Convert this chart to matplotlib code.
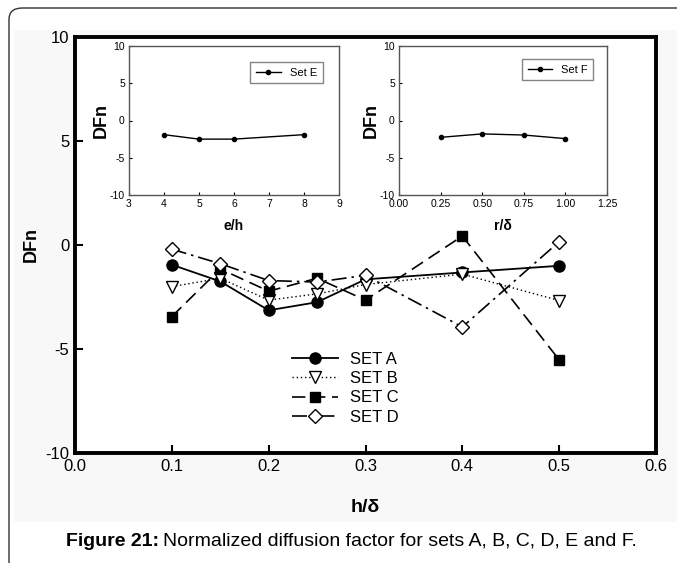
import matplotlib
matplotlib.use('Agg')
import matplotlib.pyplot as plt
from matplotlib.patches import FancyBboxPatch, Rectangle

plt.rcParams['font.family'] = ['Liberation Sans', 'DejaVu Sans']
plt.rcParams['axes.unicode_minus'] = False

# datos del grafico principal
h_delta = [0.1, 0.15, 0.2, 0.25, 0.3, 0.4, 0.5]
set_a = [-0.95, -1.75, -3.14, -2.75, -1.65, -1.32, -1.0]
set_b = [-2.0, -1.6, -2.65, -2.35, -1.9, -1.4, -2.67]
set_c = [-3.44, -1.15, -2.22, -1.6, -2.65, 0.43, -5.52]
set_d = [-0.2, -0.9, -1.71, -1.78, -1.46, -3.94, 0.16]

# datos de los recuadros
e_h = [4, 5, 6, 8]
set_e = [-1.9, -2.5, -2.5, -1.9]
r_delta = [0.25, 0.5, 0.75, 1.0]
set_f = [-2.26, -1.8, -1.95, -2.43]

W, H = 677, 563
fig = plt.figure(figsize=(W / 100, H / 100), dpi=100)
fig.patch.set_facecolor('white')

# marco redondeado y fondo gris claro
fig.patches.append(Rectangle((14 / W, 1 - 522 / H), 1, 492 / H, transform=fig.transFigure,
                             facecolor='#f8f8f8', edgecolor='none', zorder=-10))
fig.patches.append(FancyBboxPatch((9 / W, 1 - 575 / H), 1.2, 567 / H,
                                  boxstyle='round,pad=0,rounding_size=0.02',
                                  transform=fig.transFigure, facecolor='none',
                                  edgecolor='#333333', linewidth=1.0, zorder=-9))

# grafico principal
ax = fig.add_axes([75 / W, 1 - 453 / H, 581 / W, 416 / H])
ax.set_facecolor('white')
ax.plot(h_delta, set_a, color='black', lw=1.3, marker='o', ms=8, label='SET A')
ax.plot(h_delta, set_b, color='black', lw=1.0, ls=(0, (1, 2)), marker='v', ms=8,
        mfc='white', label='SET B')
ax.plot(h_delta, set_c, color='black', lw=1.2, ls=(0, (8, 4)), marker='s', ms=7,
        label='SET C')
ax.plot(h_delta, set_d, color='black', lw=1.2, ls=(0, (9, 3, 1.5, 3)), marker='D', ms=7,
        mfc='white', label='SET D')
ax.set_xlim(0, 0.6)
ax.set_ylim(-10, 10)
ax.set_xticks([0.0, 0.1, 0.2, 0.3, 0.4, 0.5, 0.6])
ax.set_xticklabels(['0.0', '0.1', '0.2', '0.3', '0.4', '0.5', '0.6'])
ax.set_yticks([-10, -5, 0, 5, 10])
ax.tick_params(direction='in', length=6, width=1.5, labelsize=12, pad=4)
for s in ax.spines.values():
    s.set_linewidth(2.8)
ax.set_xlabel('h/δ', fontsize=14, fontweight='bold', labelpad=18)
ax.set_ylabel('DFn', fontsize=13, fontweight='bold', labelpad=4)
ax.legend(loc='upper left', bbox_to_anchor=(0.215, -4.75), bbox_transform=ax.transData,
          frameon=False, fontsize=12, handlelength=2.8, handletextpad=0.7,
          labelspacing=0.25, borderpad=0)

# recuadro Set E
axe = fig.add_axes([129 / W, 1 - 195 / H, 210 / W, 149 / H])
axe.plot(e_h, set_e, color='black', lw=1.0, marker='o', ms=3, label='Set E')
axe.set_xlim(3, 9)
axe.set_ylim(-10, 10)
axe.set_xticks([3, 4, 5, 6, 7, 8, 9])
axe.set_yticks([-10, -5, 0, 5, 10])
axe.set_xlabel('e/h', fontsize=10, fontweight='bold', labelpad=7)
axe.set_ylabel('DFn', fontsize=13, fontweight='bold', labelpad=0)
axe.legend(loc='upper right', bbox_to_anchor=(0.95, 0.93), fontsize=8, fancybox=False,
           edgecolor='#666666', handlelength=2.3, borderpad=0.5)

# recuadro Set F
axf = fig.add_axes([399 / W, 1 - 195 / H, 208 / W, 149 / H])
axf.plot(r_delta, set_f, color='black', lw=1.0, marker='o', ms=3, label='Set F')
axf.set_xlim(0, 1.25)
axf.set_ylim(-10, 10)
axf.set_xticks([0.0, 0.25, 0.5, 0.75, 1.0, 1.25])
axf.set_xticklabels(['0.00', '0.25', '0.50', '0.75', '1.00', '1.25'])
axf.set_yticks([-10, -5, 0, 5, 10])
axf.set_xlabel('r/δ', fontsize=10, fontweight='bold', labelpad=7)
axf.set_ylabel('DFn', fontsize=13, fontweight='bold', labelpad=0)
axf.legend(loc='upper right', bbox_to_anchor=(0.96, 0.95), fontsize=8, fancybox=False,
           edgecolor='#666666', handlelength=2.2, borderpad=0.5)

for a in (axe, axf):
    a.set_facecolor('white')
    a.tick_params(direction='in', length=2.5, width=0.8, labelsize=7.5, pad=3)
    for s in a.spines.values():
        s.set_linewidth(1.0)
        s.set_color('#555555')

# pie de figura: parte en negrita y resto normal
t1 = fig.text(66 / W, 1 - 541 / H, 'Figure 21:', fontsize=14, fontweight='bold',
              ha='left', va='center')
fig.canvas.draw()
bb = t1.get_window_extent()
fig.text((bb.x1 + 4) / W, 1 - 541 / H,
         'Normalized diffusion factor for sets A, B, C, D, E and F.',
         fontsize=14, ha='left', va='center')

fig.savefig('out.png', dpi=100)
